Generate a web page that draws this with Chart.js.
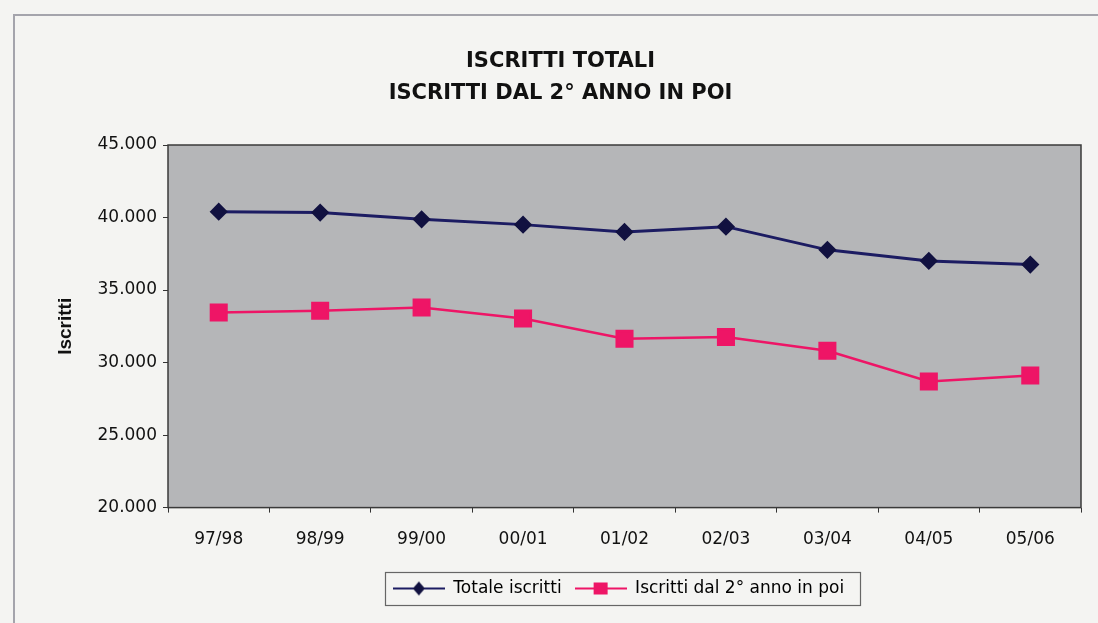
<!DOCTYPE html>
<html>
<head>
<meta charset="utf-8">
<script src="https://cdn.jsdelivr.net/npm/chart.js@4"></script>
<style>
  html, body { margin: 0; padding: 0; background: #f4f4f2; }
  #wrap { width: 1098px; height: 623px; }
</style>
</head>
<body>
<div id="wrap"><canvas id="chart" width="1098" height="623"></canvas></div>
<script>
// data
const anni = ['97/98', '98/99', '99/00', '00/01', '01/02', '02/03', '03/04', '04/05', '05/06'];
const totaleIscritti = [40400, 40340, 39880, 39510, 39010, 39370, 37770, 37010, 36760];
const iscrittiDal2Anno = [33450, 33570, 33800, 33040, 31640, 31760, 30810, 28700, 29110];
const yTicks = [20000, 25000, 30000, 35000, 40000, 45000];

const navy = '#1c1c62';
const navyMark = '#111140';
const pink = '#ee1566';

const LEGEND_SHIFT = 58;

// legend icons: line with marker, like the spreadsheet legend
function legendIcon(color, markColor, shape) {
  const c = document.createElement('canvas');
  c.width = 52; c.height = 16;
  const g = c.getContext('2d');
  g.strokeStyle = color;
  g.lineWidth = 2;
  g.beginPath(); g.moveTo(0, 8); g.lineTo(52, 8); g.stroke();
  g.fillStyle = markColor;
  if (shape === 'diamond') {
    g.beginPath(); g.moveTo(26, 1); g.lineTo(32, 8); g.lineTo(26, 15); g.lineTo(20, 8); g.closePath(); g.fill();
  } else {
    g.fillRect(19, 2, 14, 12);
  }
  return c;
}

// page frame, plot background, plot border and legend box
const decor = {
  id: 'decor',
  afterLayout(chart) {
    chart.legend.left += LEGEND_SHIFT;
    chart.legend.right += LEGEND_SHIFT;
  },
  beforeDraw(chart) {
    const ctx = chart.ctx;
    const a = chart.chartArea;
    ctx.save();
    ctx.fillStyle = '#f4f4f2';
    ctx.fillRect(0, 0, chart.width, chart.height);
    ctx.strokeStyle = '#a4a4ac';
    ctx.lineWidth = 2;
    ctx.beginPath();
    ctx.moveTo(14, chart.height);
    ctx.lineTo(14, 15);
    ctx.lineTo(chart.width, 15);
    ctx.stroke();
    ctx.fillStyle = '#b5b6b8';
    ctx.fillRect(a.left, a.top, a.right - a.left, a.bottom - a.top);
    ctx.restore();
  },
  afterDraw(chart) {
    const ctx = chart.ctx;
    const a = chart.chartArea;
    ctx.save();
    ctx.strokeStyle = '#3a3a3a';
    ctx.lineWidth = 1.5;
    ctx.strokeRect(a.left, a.top, a.right - a.left, a.bottom - a.top);
    // box around the legend items
    const l = chart.legend;
    const pad = l.options.labels.padding;
    const total = l.lineWidths[0];
    const startX = (l.left + pad + l.right - total) / 2;
    const endX = startX + total - pad;
    const fs = l.options.labels.font.size;
    const cy = l.top + pad + fs / 2;
    ctx.strokeStyle = '#666';
    ctx.lineWidth = 1.2;
    ctx.strokeRect(Math.round(startX - 8) + 0.5, Math.round(cy - 16.5) + 0.5, Math.round(endX - startX + 24), 33);
    ctx.restore();
  }
};

new Chart(document.getElementById('chart'), {
  type: 'line',
  data: {
    labels: anni,
    datasets: [{
      label: 'Totale iscritti',
      data: totaleIscritti,
      borderColor: navy,
      backgroundColor: navyMark,
      pointBorderColor: navyMark,
      borderWidth: 3,
      pointStyle: 'rectRot',
      pointRadius: 7,
      pointHoverRadius: 7,
      tension: 0
    }, {
      label: 'Iscritti dal 2° anno in poi',
      data: iscrittiDal2Anno,
      borderColor: pink,
      backgroundColor: pink,
      borderWidth: 2.5,
      pointStyle: 'rect',
      pointRadius: 11,
      pointHoverRadius: 11,
      tension: 0
    }]
  },
  options: {
    responsive: false,
    animation: false,
    layout: { padding: { left: 40, right: 17, top: 46, bottom: 16 } },
    plugins: {
      title: {
        display: true,
        text: ['ISCRITTI TOTALI', 'ISCRITTI DAL 2° ANNO IN POI'],
        color: '#111',
        font: { family: 'DejaVu Sans', size: 21, weight: 'bold', lineHeight: 1.5 },
        padding: { top: 0, bottom: 36 }
      },
      legend: {
        position: 'bottom',
        labels: {
          color: '#111',
          font: { family: 'DejaVu Sans', size: 17 },
          usePointStyle: true,
          pointStyleWidth: 52,
          boxHeight: 16,
          padding: 13,
          generateLabels(chart) {
            return chart.data.datasets.map((ds, i) => ({
              text: ds.label,
              pointStyle: i === 0 ? legendIcon(navy, navyMark, 'diamond') : legendIcon(pink, pink, 'square'),
              fillStyle: ds.borderColor,
              strokeStyle: ds.borderColor,
              lineWidth: 0,
              datasetIndex: i
            }));
          }
        }
      },
      tooltip: { enabled: false }
    },
    scales: {
      x: {
        offset: true,
        grid: { display: true, drawOnChartArea: false, offset: true, drawTicks: true, tickLength: 5, color: '#333' },
        border: { display: false },
        ticks: {
          color: '#111',
          font: { family: 'DejaVu Sans', size: 17 },
          padding: 17
        }
      },
      y: {
        min: 20000,
        max: 45000,
        afterBuildTicks(axis) { axis.ticks = yTicks.map(v => ({ value: v })); },
        afterFit(axis) { axis.width = 168 - 40; },
        grid: { drawOnChartArea: false, drawTicks: true, tickLength: 5, color: '#333' },
        border: { display: false },
        title: {
          display: true,
          text: 'Iscritti',
          color: '#111',
          font: { family: 'Liberation Sans', size: 19, weight: 'bold' },
          padding: { top: 14, bottom: 0 }
        },
        ticks: {
          color: '#111',
          font: { family: 'DejaVu Sans', size: 17 },
          padding: 6,
          callback: v => (v / 1000).toFixed(3)
        }
      }
    }
  },
  plugins: [decor]
});
</script>
</body>
</html>
